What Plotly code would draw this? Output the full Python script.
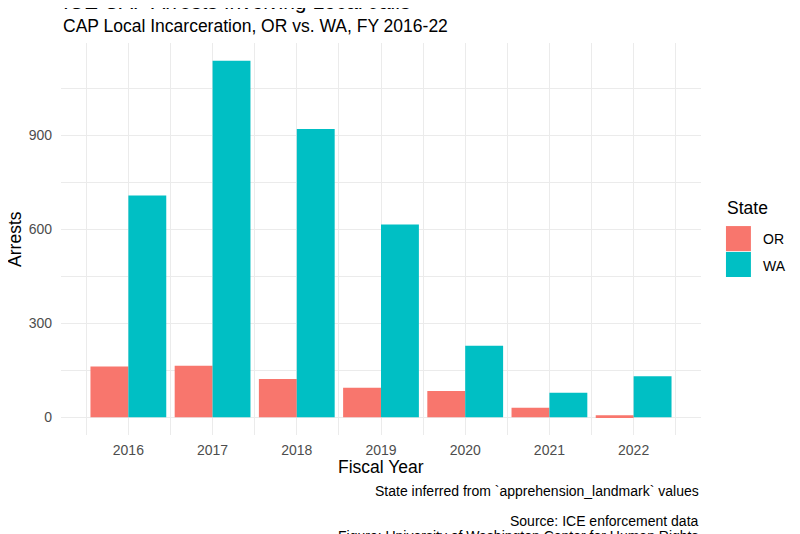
import plotly.graph_objects as go

# valores
anios = [2016, 2017, 2018, 2019, 2020, 2021, 2022]
arrestos_or = [162, 164, 122, 94, 84, 30, 6]
arrestos_wa = [708, 1138, 920, 615, 228, 78, 131]
estados = ["OR", "WA"]
colores = {"OR": "#F8766D", "WA": "#00BFC4"}
ticks_y = [0, 300, 600, 900]

fuente = "Liberation Sans, Arial, sans-serif"
gris_grid = "#EBEBEB"

fig = go.Figure()
for estado, valores in zip(estados, [arrestos_or, arrestos_wa]):
    fig.add_trace(go.Bar(
        x=anios, y=valores, name=estado, showlegend=False,
        marker=dict(color=colores[estado], line=dict(width=0)),
    ))

# la pagina tiene 8px de margen en el body, se compensa aqui
fig.update_layout(
    width=800, height=534,
    margin=dict(l=53, r=107, t=35, b=107),
    plot_bgcolor="white", paper_bgcolor="white",
    barmode="group", bargap=0.1, bargroupgap=0,
    font=dict(family=fuente, color="black"),
)

fig.update_xaxes(
    range=[2015.2, 2022.8],
    tickmode="array", tickvals=anios, ticktext=[str(a) for a in anios],
    showgrid=True, gridcolor=gris_grid, gridwidth=1.2,
    minor=dict(dtick=0.5, tick0=2015.5, showgrid=True, gridcolor=gris_grid, gridwidth=0.6),
    zeroline=False, showline=False, ticks="",
    tickfont=dict(size=14, color="#4D4D4D"),
    ticklabelstandoff=5,
)
fig.update_yaxes(
    range=[-56.9, 1194.9],
    tickmode="array", tickvals=ticks_y, ticktext=[str(v) for v in ticks_y],
    showgrid=True, gridcolor=gris_grid, gridwidth=1.2,
    minor=dict(dtick=150, tick0=0, showgrid=True, gridcolor=gris_grid, gridwidth=0.6),
    zeroline=False, showline=False, ticks="",
    tickfont=dict(size=14, color="#4D4D4D"),
    ticklabelstandoff=8,
)

textos = [
    dict(text="ICE CAP Arrests Involving Local Jails", x=0, y=1.106, xanchor="left", size=21),
    dict(text="CAP Local Incarceration, OR vs. WA, FY 2016-22", x=0, y=1.043, xanchor="left", size=17.5),
    dict(text="Fiscal Year", x=0.5, y=-0.082, xanchor="center", size=17.5),
    dict(text="State inferred from `apprehension_landmark` values", x=1, y=-0.143,
         xanchor="right", size=14),
    dict(text="Source: ICE enforcement data", x=1, y=-0.219, xanchor="right", size=14),
    dict(text="Figure: University of Washington Center for Human Rights", x=1, y=-0.258,
         xanchor="right", size=14),
    # leyenda
    dict(text="State", x=1.0375, y=0.579, xanchor="left", size=17.5),
    dict(text="OR", x=1.094, y=0.5, xanchor="left", size=14),
    dict(text="WA", x=1.094, y=0.432, xanchor="left", size=14),
]
for t in textos:
    fig.add_annotation(
        text=t["text"], xref="paper", yref="paper", x=t["x"], y=t["y"],
        xanchor=t["xanchor"], yanchor="middle", showarrow=False,
        font=dict(size=t["size"], color="black", family=fuente),
    )
fig.add_annotation(
    text="Arrests", xref="paper", yref="paper", x=-0.072, y=0.5,
    xanchor="center", yanchor="middle", textangle=-90, showarrow=False,
    font=dict(size=17.5, color="black", family=fuente),
)

# cuadros de la leyenda
cajas = {"OR": (0.469, 0.533), "WA": (0.403, 0.467)}
for estado in estados:
    y0, y1 = cajas[estado]
    fig.add_shape(type="rect", xref="paper", yref="paper",
                  x0=1.039, x1=1.078, y0=y0, y1=y1,
                  fillcolor=colores[estado], line=dict(width=0))

fig.write_html("out.html")
